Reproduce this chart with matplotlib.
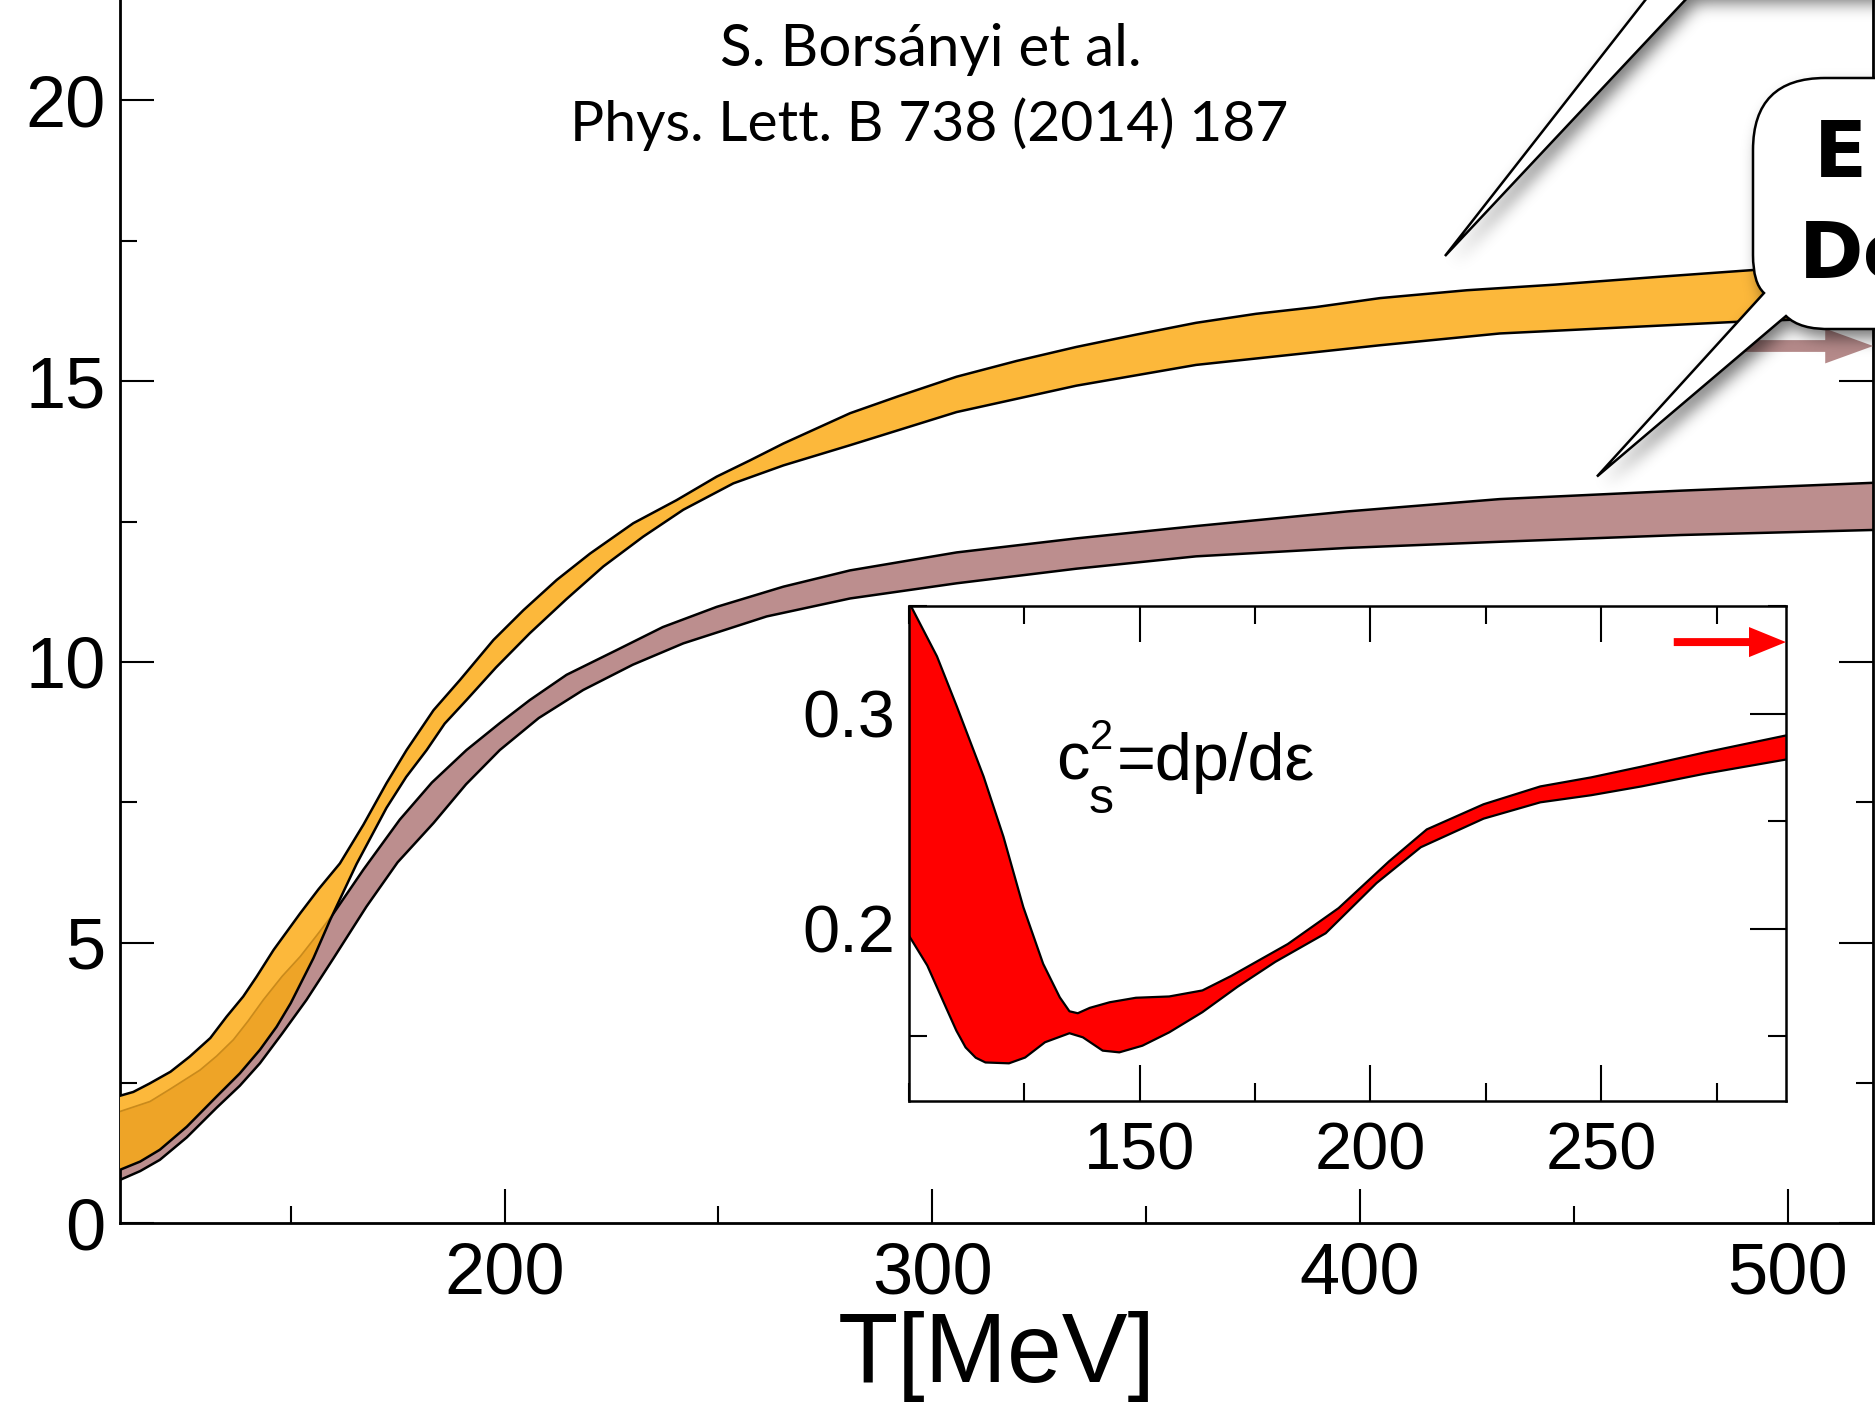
"""
QCD equation of state: entropy and energy density vs temperature,
with the speed of sound squared shown as an inset.
"""

import numpy as np
import matplotlib.pyplot as plt
from matplotlib.patches import Polygon, PathPatch
from matplotlib.path import Path
from matplotlib.ticker import MultipleLocator

plt.rcParams['font.family'] = ['Liberation Sans', 'DejaVu Sans']

# --- main panel data (T in MeV) ---
# s/T^3 band (orange)
s_up_T = [110, 113.2, 117, 121.9, 126.4, 131.2, 135, 138.9, 142, 146, 152.2, 156.5, 161.5,
          167, 172.4, 177.1, 183.4, 189.6, 197.4, 204.4, 212.2, 220.0, 230.1, 240.2, 249.6,
          257.4, 265.2, 273.0, 280.8, 292, 305.7, 319.7, 333.7, 347.7, 361.7, 375.7, 389.7,
          404.7, 425, 445.6, 470, 491.9, 520]
s_up_v = [2.27, 2.34, 2.49, 2.70, 2.97, 3.30, 3.68, 4.04, 4.39, 4.87, 5.52, 5.95, 6.41,
          7.10, 7.84, 8.43, 9.14, 9.68, 10.39, 10.92, 11.46, 11.93, 12.47, 12.88, 13.30,
          13.59, 13.89, 14.16, 14.43, 14.73, 15.08, 15.36, 15.61, 15.83, 16.04, 16.20, 16.32,
          16.48, 16.62, 16.72, 16.86, 16.98, 17.10]
s_lo_T = [110, 114.8, 119.4, 125.7, 132.7, 138.1, 142.8, 146.7, 150, 155.3, 159.2, 165.4,
          172.4, 177, 181.8, 186, 191.1, 198, 205.9, 214.5, 223.1, 232.4, 241.8, 253.5,
          265.2, 280.8, 305.7, 333.7, 361.7, 404.7, 432.7, 488.8, 520]
s_lo_v = [0.95, 1.10, 1.31, 1.72, 2.26, 2.67, 3.09, 3.50, 3.92, 4.72, 5.40, 6.40,
          7.40, 7.95, 8.43, 8.90, 9.32, 9.90, 10.51, 11.12, 11.70, 12.23, 12.71, 13.18,
          13.50, 13.86, 14.45, 14.92, 15.29, 15.64, 15.85, 16.06, 16.15]

# e/T^4 band (brown)
e_up_T = [110, 117.1, 122, 128.8, 132.7, 136.6, 140, 143.6, 148, 152.2, 156, 160, 167,
          175.5, 183, 191.1, 198.9, 205.9, 214.5, 226.2, 237, 249.6, 265.2, 280.8, 305.7,
          333.7, 361.7, 397, 432.7, 475, 520]
e_up_v = [1.99, 2.17, 2.40, 2.73, 2.98, 3.27, 3.60, 3.98, 4.40, 4.75, 5.12, 5.52, 6.30,
          7.19, 7.85, 8.43, 8.91, 9.32, 9.77, 10.21, 10.62, 10.98, 11.34, 11.63, 11.95,
          12.20, 12.42, 12.68, 12.90, 13.05, 13.19]
e_lo_T = [110, 114.8, 119.4, 125.7, 132.7, 138.1, 142.8, 148, 153.7, 160, 167.7, 175,
          183.4, 191, 198.9, 208, 218.4, 230, 241.8, 261.3, 280.8, 305.7, 333.7, 361.7,
          397, 432.7, 475, 520]
e_lo_v = [0.77, 0.93, 1.13, 1.53, 2.06, 2.45, 2.85, 3.38, 3.98, 4.72, 5.64, 6.43,
          7.13, 7.82, 8.43, 9.00, 9.50, 9.95, 10.33, 10.81, 11.13, 11.40, 11.66, 11.88,
          12.03, 12.14, 12.26, 12.35]

E_SB = 95 * np.pi ** 2 / 60      # Stefan-Boltzmann limit of e/T^4

# --- inset: speed of sound squared ---
cs_up_T = [100, 106.1, 110.4, 116.2, 120.5, 124.8, 129.1, 132.7, 134.8, 136.6, 139.2, 143.5,
           149.2, 156.4, 163.6, 169.8, 182.1, 193.1, 204, 212.2, 224.5, 236.8, 247.8,
           258.7, 272.4, 290]
cs_up_v = [0.352, 0.3267, 0.3034, 0.2708, 0.2428, 0.2101, 0.1837, 0.1681, 0.1616, 0.1607,
           0.1632, 0.1658, 0.1679, 0.1685, 0.1713, 0.1780, 0.1929, 0.2096, 0.2313, 0.2462,
           0.2579, 0.2662, 0.2704, 0.2754, 0.2820, 0.2899]
cs_lo_T = [100, 104.0, 108.0, 110.3, 112.3, 114.5, 116.6, 121.7, 125.2, 129.5, 134.8, 137.7,
           142.0, 145.6, 150.6, 156.4, 163.6, 171.2, 179.4, 190.3, 201.3, 210.9, 224.5,
           236.8, 247.8, 258.7, 272.4, 290]
cs_lo_v = [0.1969, 0.1829, 0.1636, 0.1526, 0.1448, 0.1400, 0.1378, 0.1374, 0.1401, 0.1472,
           0.1514, 0.1495, 0.1433, 0.1425, 0.1456, 0.1518, 0.1612, 0.1730, 0.1846, 0.1979,
           0.2212, 0.2379, 0.2512, 0.2588, 0.2621, 0.2662, 0.2721, 0.2787]
CS2_SB = 1 / 3

ORANGE = '#fcb83b'
ORANGE_DARK = '#eea427'
ORANGE_LINE = '#c98a1c'
BROWN = '#bc8e8e'
BROWN_ARROW = '#a87676'
RED = '#ff0000'


def band_vertices(up_T, up_v, lo_T, lo_v):
    x = np.concatenate([up_T, lo_T[::-1]])
    y = np.concatenate([up_v, lo_v[::-1]])
    return np.column_stack([x, y])


def style_axes(a, major, minor, lw_spine, labelsize, pad):
    for sp in a.spines.values():
        sp.set_linewidth(lw_spine)
    a.tick_params(which='both', direction='in', top=True, right=True, width=1.5,
                  labelsize=labelsize, pad=pad)
    a.tick_params(which='major', length=major)
    a.tick_params(which='minor', length=minor)


def edge(a, T, v, **kw):
    line, = a.plot(T, v, solid_joinstyle='round', solid_capstyle='round', **kw)
    return line


fig = plt.figure(figsize=(18.75, 14.04), dpi=100)

# ---------------- main axes ----------------
ax = fig.add_axes([0.0638, 0.1287, 0.9352, 0.8797])
ax.set_xlim(110, 520)
ax.set_ylim(0, 22)
ax.xaxis.set_major_locator(MultipleLocator(100))
ax.xaxis.set_minor_locator(MultipleLocator(50))
ax.yaxis.set_major_locator(MultipleLocator(5))
ax.yaxis.set_minor_locator(MultipleLocator(2.5))
style_axes(ax, 24.5, 12, 2.0, 52, 10)
ax.tick_params(axis='x', which='both', top=False, pad=13)
ax.set_xlabel('T[MeV]', fontsize=71, labelpad=2)

e_verts = band_vertices(np.array(e_up_T), np.array(e_up_v), np.array(e_lo_T), np.array(e_lo_v))
s_verts = band_vertices(np.array(s_up_T), np.array(s_up_v), np.array(s_lo_T), np.array(s_lo_v))

ax.add_patch(Polygon(e_verts, closed=True, facecolor=BROWN, edgecolor='none', zorder=2))
edge(ax, e_up_T, e_up_v, color='k', lw=1.8, zorder=2.5)
edge(ax, e_lo_T, e_lo_v, color='k', lw=1.8, zorder=2.5)

s_patch = Polygon(s_verts, closed=True, facecolor=ORANGE, edgecolor='none', zorder=3)
ax.add_patch(s_patch)
# where the two bands overlap the orange band is shaded darker
overlap = Polygon(e_verts, closed=True, facecolor=ORANGE_DARK, edgecolor='none', zorder=3.5)
ax.add_patch(overlap)
overlap.set_clip_path(s_patch)
inner = edge(ax, e_up_T, e_up_v, color=ORANGE_LINE, lw=1.2, zorder=3.6)
inner.set_clip_path(s_patch)
edge(ax, s_up_T, s_up_v, color='k', lw=1.8, zorder=4)
edge(ax, s_lo_T, s_lo_v, color='k', lw=1.8, zorder=4)

ax.arrow(485, E_SB, 520 - 485, 0, width=0.21, head_width=0.62, head_length=11.2,
         length_includes_head=True, color=BROWN_ARROW, alpha=0.85, lw=0, zorder=5)

# ---------------- inset ----------------
axi = fig.add_axes([0.4847, 0.2160, 0.4678, 0.3522])
axi.set_facecolor('white')
axi.set_xlim(100, 290)
axi.set_ylim(0.12, 0.35)
axi.xaxis.set_major_locator(MultipleLocator(50))
axi.xaxis.set_minor_locator(MultipleLocator(25))
axi.yaxis.set_major_locator(MultipleLocator(0.1))
axi.yaxis.set_minor_locator(MultipleLocator(0.05))
axi.set_xticks([150, 200, 250])
axi.set_yticks([0.2, 0.3])
axi.set_yticklabels(['0.2', '0.3'])
style_axes(axi, 26, 13, 1.8, 48, 10)
axi.tick_params(axis='x', pad=15)

cs_verts = band_vertices(np.array(cs_up_T), np.array(cs_up_v), np.array(cs_lo_T), np.array(cs_lo_v))
axi.add_patch(Polygon(cs_verts, closed=True, facecolor=RED, edgecolor='none', zorder=2))
edge(axi, cs_up_T, cs_up_v, color='k', lw=1.6, zorder=3)
edge(axi, cs_lo_T, cs_lo_v, color='k', lw=1.6, zorder=3)
axi.arrow(265.7, CS2_SB, 290 - 265.7, 0, width=0.0037, head_width=0.014, head_length=8,
          length_includes_head=True, color=RED, lw=0, zorder=4)

# ---------------- overlay in pixel coordinates ----------------
W, H = 1875, 1404
ov = fig.add_axes([0, 0, 1, 1])
ov.set_xlim(0, W)
ov.set_ylim(H, 0)
ov.axis('off')
ov.patch.set_alpha(0)

# c_s^2 = dp/de label of the inset
ov.text(1056, 780, 'c', fontsize=48, ha='left', va='baseline')
ov.text(1090, 749, '2', fontsize=30, ha='left', va='baseline')
ov.text(1089, 813, 's', fontsize=36, ha='left', va='baseline')
ov.text(1117, 780, '=dp/dε', fontsize=48, ha='left', va='baseline')

# reference
ov.text(931, 66, 'S. Borsányi et al.', fontsize=42, family='Lato',
        ha='center', va='baseline')
ov.text(929, 141, 'Phys. Lett. B 738 (2014) 187', fontsize=41, family='Lato',
        ha='center', va='baseline')

# speech bubble with its tail, plus the tail of another one coming from above
x0, y0, r, yb, xr = 1753, 78, 72, 329, 2050
bubble = Path(
    [(x0, y0 + r), (x0, y0), (x0 + r, y0), (xr, y0), (xr, yb), (1832, yb),
     (1800, yb + 1), (1786, 316), (1597, 476.5), (1764, 293), (1753, 283),
     (x0, 255), (x0, y0 + r)],
    [Path.MOVETO, Path.CURVE3, Path.CURVE3, Path.LINETO, Path.LINETO, Path.LINETO,
     Path.CURVE3, Path.CURVE3, Path.LINETO, Path.LINETO, Path.CURVE3,
     Path.CURVE3, Path.CLOSEPOLY])
spike = Path([(1661, -20), (1445, 256), (1704, -20), (1661, -20)],
             [Path.MOVETO, Path.LINETO, Path.LINETO, Path.CLOSEPOLY])
box_above = Path([(1655, -400), (2200, -400), (2200, -6), (1655, -6), (1655, -400)],
                 [Path.MOVETO, Path.LINETO, Path.LINETO, Path.LINETO, Path.CLOSEPOLY])

# soft drop shadow rendered as a blurred mask
gx0, gx1, gy0, gy1 = 1300, 2000, -120, 620
xs = np.arange(gx0, gx1) + 0.5
ys = np.arange(gy0, gy1) + 0.5
XX, YY = np.meshgrid(xs, ys)
dx, dy = 6, 9
pts = np.column_stack([XX.ravel() - dx, YY.ravel() - dy])
mask = np.zeros(XX.size)
for shape in (bubble, spike, box_above):
    mask = np.maximum(mask, shape.contains_points(pts))
mask = mask.reshape(XX.shape)

sigma = 8.0
rad = int(3 * sigma)
kern = np.exp(-0.5 * (np.arange(-rad, rad + 1) / sigma) ** 2)
kern /= kern.sum()
mask = np.apply_along_axis(lambda m: np.convolve(m, kern, mode='same'), 0, mask)
mask = np.apply_along_axis(lambda m: np.convolve(m, kern, mode='same'), 1, mask)
shadow = np.zeros(mask.shape + (4,))
shadow[..., 3] = 0.55 * mask
ov.imshow(shadow, extent=(gx0, gx1, gy1, gy0), interpolation='bilinear',
          aspect='auto', zorder=1)
ov.set_xlim(0, W)
ov.set_ylim(H, 0)

for shape in (spike, bubble):
    ov.add_patch(PathPatch(shape, facecolor='white', edgecolor='black', lw=1.8, zorder=2))

ov.text(1814, 177, 'E', fontsize=56, fontweight='bold', family='DejaVu Sans',
        ha='left', va='baseline', zorder=3)
ov.text(1799, 278, 'Do', fontsize=56, fontweight='bold', family='DejaVu Sans',
        ha='left', va='baseline', zorder=3)

fig.savefig('out.png', dpi=100)
